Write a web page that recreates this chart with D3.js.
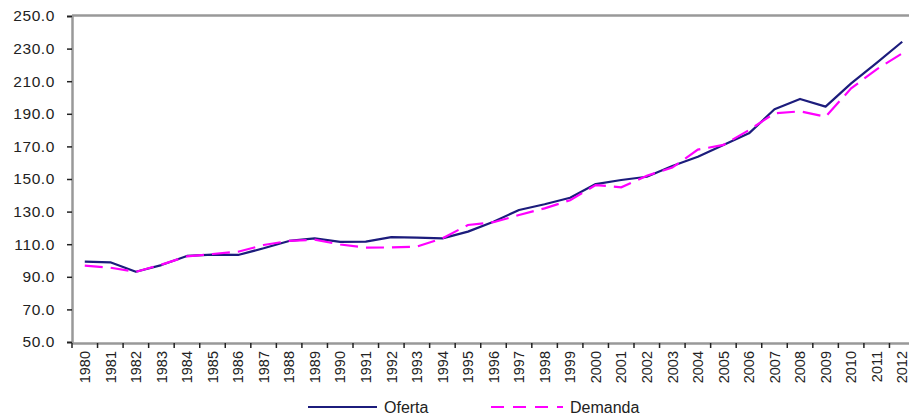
<!DOCTYPE html>
<html>
<head>
<meta charset="utf-8">
<script src="https://cdn.jsdelivr.net/npm/d3@7"></script>
<style>
  html, body { margin: 0; padding: 0; background: #ffffff; }
  svg { display: block; }
  text { font-family: "Liberation Sans", Arial, sans-serif; fill: #222; }
</style>
</head>
<body>
<svg id="chart" width="909" height="416"></svg>
<script>
const years = ["1980","1981","1982","1983","1984","1985","1986","1987","1988","1989","1990",
  "1991","1992","1993","1994","1995","1996","1997","1998","1999","2000","2001","2002",
  "2003","2004","2005","2006","2007","2008","2009","2010","2011","2012"];
const oferta = [99.3, 98.9, 93.1, 97.2, 102.8, 103.6, 103.4, 107.5, 112.0, 113.6, 111.4,
  111.6, 114.3, 114.0, 113.6, 117.7, 123.8, 131.0, 134.5, 138.5, 146.9, 149.4, 151.4,
  158.0, 163.6, 170.9, 178.0, 192.8, 199.1, 194.4, 208.7, 221.3, 234.2];
const demanda = [96.8, 95.6, 93.0, 97.5, 102.5, 104.0, 105.4, 109.5, 112.0, 112.8, 109.8,
  107.9, 108.0, 108.5, 113.6, 121.8, 123.5, 127.9, 132.0, 137.0, 146.3, 144.9, 152.0,
  157.0, 168.0, 170.9, 180.0, 190.3, 191.5, 188.2, 205.6, 217.3, 227.1];
const yTicks = [50, 70, 90, 110, 130, 150, 170, 190, 210, 230, 250];
const seriesNames = ["Oferta", "Demanda"];

const svg = d3.select("#chart");
const pL = 72, pR = 915, pT = 16, pB = 342;

const x = d3.scaleBand().domain(years).range([pL, pR]).paddingInner(0).paddingOuter(0);
const y = d3.scaleLinear().domain([50, 250]).range([pB, pT]);

// top border
svg.append("line").attr("x1", pL).attr("x2", 909).attr("y1", pT - 0.5).attr("y2", pT - 0.5)
  .attr("stroke", "#999").attr("stroke-width", 2.5);

// y axis
const yAxis = svg.append("g").attr("transform", `translate(${pL},0)`)
  .call(d3.axisLeft(y).tickValues(yTicks).tickFormat(d3.format(".1f")).tickSize(5).tickPadding(12));
yAxis.select(".domain").attr("stroke", "#999").attr("stroke-width", 2.5);
yAxis.selectAll(".tick line").attr("stroke", "#222").attr("stroke-width", 1.5);
yAxis.selectAll(".tick text").style("font-size", "15.5px").style("font-family", "Liberation Sans, Arial, sans-serif")
  .attr("fill", "#222").attr("letter-spacing", "0.6px");

// x axis
const xAxis = svg.append("g").attr("transform", `translate(0,${pB + 1})`)
  .call(d3.axisBottom(x).tickSize(0).tickPadding(0));
xAxis.select(".domain").attr("stroke", "#999").attr("stroke-width", 2.5);
xAxis.selectAll(".tick text")
  .attr("transform", "rotate(-90)")
  .attr("x", -8).attr("y", 0).attr("dy", "0.36em")
  .style("text-anchor", "end").style("font-size", "14.5px")
  .style("font-family", "Liberation Sans, Arial, sans-serif").attr("fill", "#222");
// boundary ticks between categories
const bounds = years.map(d => x(d));
xAxis.selectAll(".btick").data(bounds).enter().append("line")
  .attr("class", "btick")
  .attr("x1", d => d).attr("x2", d => d).attr("y1", 0).attr("y2", 5)
  .attr("stroke", "#222").attr("stroke-width", 1.5);

const cx = d => x(d) + x.bandwidth() / 2;
const line = d3.line().x((d, i) => cx(years[i])).y(d => y(d));

svg.append("path").datum(oferta).attr("d", line)
  .attr("fill", "none").attr("stroke", "#1c1c7c").attr("stroke-width", 2.2)
  .attr("stroke-linejoin", "round");
svg.append("path").datum(demanda).attr("d", line)
  .attr("fill", "none").attr("stroke", "#ff00ff").attr("stroke-width", 2.2)
  .attr("stroke-dasharray", "18,8");

// legend
const lg = svg.append("g");
lg.append("line").attr("x1", 308).attr("x2", 377).attr("y1", 407).attr("y2", 407)
  .attr("stroke", "#1c1c7c").attr("stroke-width", 2.2);
lg.append("text").attr("x", 384).attr("y", 407).attr("dy", "0.36em")
  .style("font-size", "16px").text(seriesNames[0]);
lg.append("line").attr("x1", 491).attr("x2", 563).attr("y1", 407).attr("y2", 407)
  .attr("stroke", "#ff00ff").attr("stroke-width", 2.2).attr("stroke-dasharray", "13,9");
lg.append("text").attr("x", 570).attr("y", 407).attr("dy", "0.36em")
  .style("font-size", "16px").text(seriesNames[1]);
</script>
</body>
</html>
